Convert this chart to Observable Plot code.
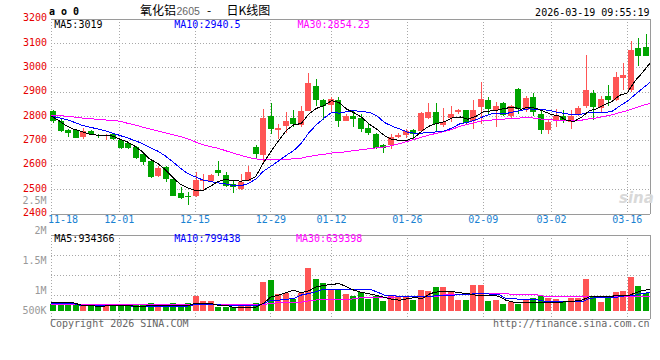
<!DOCTYPE html>
<html><head><meta charset="utf-8">
<script src="https://cdn.jsdelivr.net/npm/d3@7"></script>
<script src="https://cdn.jsdelivr.net/npm/@observablehq/plot@0.6"></script>
<style>
body{margin:0;background:#fff;}
#chart{position:relative;width:660px;height:360px;overflow:hidden;background:#fff;}
#chart svg{position:absolute;left:0;top:0;}
.t{position:absolute;white-space:nowrap;font-family:"DejaVu Sans Mono",monospace;font-size:10px;line-height:10px;}
</style></head><body><div id="chart"></div>
<script>
// ---------- data ----------
const dates = ["11-18","11-19","11-20","11-21","11-24","11-25","11-26","11-27","11-28",
"12-01","12-02","12-03","12-04","12-05","12-08","12-09","12-10","12-11","12-12",
"12-15","12-16","12-17","12-18","12-19","12-22","12-23","12-24","12-25","12-26",
"12-29","12-30","12-31","01-05","01-06","01-07","01-08","01-09",
"01-12","01-13","01-14","01-15","01-16","01-19","01-20","01-21","01-22","01-23",
"01-26","01-27","01-28","01-29","01-30","02-02","02-03","02-04","02-05","02-06",
"02-09","02-10","02-11","02-12","02-13","02-24","02-25","02-26","02-27",
"03-02","03-03","03-04","03-05","03-06","03-09","03-10","03-11","03-12","03-13",
"03-16","03-17","03-18","03-19"];
const open = [2820,2779,2744,2741,2714,2738,2720,2718,2725,2700,
2689,2673,2643,2614,2554,2591,2541,2485,2473,2472,
2532,2534,2577,2557,2520,2501,2534,2673,2639,2798,
2742,2757,2792,2762,2820,2925,2864,2847,2867,2779,
2802,2793,2751,2727,2680,2680,2714,2721,2741,2738,
2793,2816,2762,2793,2815,2823,2779,2837,2864,2826,
2853,2798,2912,2823,2880,2807,2741,2782,2798,2775,
2807,2840,2894,2834,2881,2864,2957,2905,3080,3085];
const high = [2823,2789,2748,2744,2752,2741,2727,2727,2727,2703,
2692,2676,2646,2618,2594,2594,2544,2509,2489,2571,
2561,2564,2614,2571,2539,2564,2594,2680,2830,2853,
2768,2816,2826,2843,2976,2953,2871,2877,2877,2809,
2823,2809,2768,2730,2686,2727,2730,2747,2747,2816,
2853,2853,2834,2843,2830,2826,2864,2939,2877,2857,
2857,2846,2916,2884,2894,2823,2789,2830,2826,2823,
2843,3051,2906,2883,2926,2980,3018,3109,3119,3135];
const low = [2771,2733,2714,2709,2707,2721,2711,2700,2703,2665,
2665,2624,2598,2546,2550,2528,2472,2459,2434,2468,
2495,2530,2553,2509,2485,2498,2534,2625,2605,2725,
2707,2730,2755,2755,2820,2843,2785,2812,2755,2779,
2755,2734,2721,2665,2650,2666,2711,2711,2707,2738,
2789,2734,2755,2775,2809,2768,2748,2766,2809,2755,
2800,2793,2809,2816,2802,2725,2727,2755,2771,2748,
2800,2832,2785,2818,2840,2862,2905,2898,3005,3047];
const close = [2779,2738,2730,2711,2737,2725,2716,2722,2706,2670,
2670,2629,2611,2550,2586,2542,2472,2464,2469,2536,
2538,2557,2566,2513,2509,2530,2569,2643,2793,2745,
2749,2778,2766,2819,2937,2864,2839,2868,2779,2798,
2789,2745,2731,2670,2670,2714,2724,2738,2727,2812,
2816,2768,2775,2809,2823,2771,2823,2868,2830,2843,
2805,2843,2830,2873,2816,2744,2775,2802,2782,2798,
2834,2906,2838,2868,2864,2960,2967,3072,3045,3048];
const ma5 = [2802,2784,2762,2748,2739,2728,2724,2722,2721,2708,
2697,2679,2657,2626,2609,2584,2552,2523,2507,2497,
2496,2513,2533,2542,2537,2535,2537,2553,2609,2656,
2700,2742,2766,2771,2810,2833,2845,2865,2857,2830,
2815,2796,2768,2747,2721,2706,2702,2703,2715,2743,
2763,2772,2780,2796,2798,2789,2800,2819,2823,2827,
2834,2838,2830,2839,2833,2821,2808,2802,2784,2780,
2798,2824,2832,2849,2862,2887,2897,2945,2980,3019];
const ma10 = [2802,2795,2788,2777,2765,2757,2750,2743,2733,2723,
2713,2702,2690,2674,2659,2640,2616,2590,2566,2553,
2540,2533,2528,2524,2517,2515,2525,2543,2575,2596,
2617,2640,2660,2690,2733,2766,2793,2816,2814,2820,
2824,2820,2817,2802,2775,2760,2749,2736,2731,2732,
2735,2737,2741,2755,2771,2776,2786,2799,2810,2813,
2812,2819,2825,2831,2830,2828,2823,2816,2811,2807,
2810,2816,2817,2816,2821,2843,2862,2889,2915,2940];
const ma30 = [2806,2804,2801,2798,2794,2791,2789,2786,2784,2781,
2773,2766,2757,2749,2741,2734,2726,2718,2709,2696,
2685,2676,2670,2660,2650,2641,2632,2626,2623,2624,
2623,2625,2626,2629,2636,2641,2645,2650,2652,2656,
2660,2664,2668,2672,2675,2681,2689,2698,2707,2716,
2725,2732,2739,2749,2760,2768,2776,2784,2785,2788,
2790,2792,2794,2796,2792,2788,2786,2784,2784,2784,
2785,2791,2794,2801,2807,2816,2824,2835,2845,2853];
const volume = [311000,311000,311000,311000,268000,268000,268000,268000,268000,255000,
240000,240000,255000,354000,311000,240000,354000,311000,354000,652000,
439000,439000,183000,183000,183000,240000,255000,354000,1248000,1333000,
737000,780000,511000,767000,1845000,1376000,1193000,907000,950000,737000,
652000,793000,524000,622000,439000,622000,622000,622000,481000,907000,
865000,1007000,1035000,793000,481000,481000,1120000,1120000,439000,481000,
311000,396000,311000,481000,567000,622000,567000,524000,410000,567000,
567000,1376000,622000,396000,622000,793000,865000,1430000,1050000,767000];
const volMa5 = [369000,369000,369000,369000,270000,270000,227000,227000,270000,270000,
270000,227000,227000,241000,241000,241000,241000,241000,241000,341000,
341000,341000,270000,270000,185000,185000,185000,185000,338000,622000,
694000,807000,907000,807000,878000,1050000,1110000,1151000,1190000,1050000,
900000,810000,750000,680000,600000,520000,481000,540000,594000,552000,
765000,836000,864000,850000,793000,765000,694000,694000,694000,652000,
481000,400000,369000,369000,380000,390000,390000,398000,412000,440000,
481000,622000,652000,652000,652000,694000,665000,780000,900000,934000];
const volMa10 = [341000,341000,341000,341000,241000,241000,241000,241000,241000,241000,
241000,227000,227000,227000,227000,227000,227000,227000,227000,298000,
298000,298000,298000,241000,241000,241000,241000,241000,341000,481000,
481000,520000,552000,700000,765000,850000,949000,949000,949000,949000,
949000,949000,949000,836000,694000,694000,622000,622000,622000,622000,
622000,694000,694000,694000,722000,722000,765000,765000,737000,737000,
552000,552000,509000,509000,509000,439000,439000,439000,412000,412000,
412000,552000,594000,594000,594000,622000,694000,694000,780000,799000];
const volMa30 = [290000,290000,290000,290000,290000,290000,290000,290000,290000,290000,
290000,290000,290000,290000,290000,290000,290000,290000,290000,290000,
290000,290000,290000,290000,290000,290000,290000,290000,300000,340000,
383000,383000,383000,400000,450000,490000,511000,511000,511000,511000,
540000,595000,595000,595000,595000,595000,652000,652000,652000,652000,
652000,652000,722000,722000,722000,722000,765000,765000,765000,765000,
765000,722000,722000,722000,722000,652000,652000,652000,652000,652000,
652000,652000,652000,652000,652000,652000,652000,652000,652000,639000];
const priceTicks = [2400,2500,2600,2700,2800,2900,3000,3100,3200];
const dateTicks = ["11-18","12-01","12-15","12-29","01-12","01-26","02-09","03-02","03-16"];
const volTickValues = [2500000,2000000,1500000,1000000,500000];
const volTickLabels = ["2.5M","2M","1.5M","1M","500K"];
const volGridValues = [2373000,1521000,694000];
const maLabels = ["MA5:3019","MA10:2940.5","MA30:2854.23"];
const volMaLabels = ["MA5:934366","MA10:799438","MA30:639398"];
const maColors = ["#000000","#0000ff","#ff00ff"];

// ---------- drawing ----------
const W = 660, H = 360;
const RED = "#ff5555", GREEN = "#00a400", GRID = "#a8a8a8", BORDER = "#9a9a9a", BLUE = "#1a82d2";
const chart = document.getElementById("chart");
const rows = dates.map((d, i) => ({date: d, open: open[i], high: high[i], low: low[i], close: close[i],
  volume: volume[i], color: close[i] >= open[i] ? RED : GREEN}));
const series = (arr) => arr.map((v, i) => ({date: dates[i], value: v}));
const style = {fontFamily: "'DejaVu Sans Mono', monospace", fontSize: "10px", background: "transparent", overflow: "visible"};

function layer(opts, crisp = true) {
  const svg = Plot.plot({width: W, height: H, style, color: {type: "identity"}, ...opts});
  if (crisp) svg.setAttribute("shape-rendering", "crispEdges");
  chart.appendChild(svg);
}
const priceFrame = {marginTop: 18.5, marginBottom: 146.5};
const volFrame = {marginTop: 234.5, marginBottom: 41.5};
const pointX = {marginLeft: 50.5, marginRight: 10.5, x: {type: "point", domain: dates, range: [50.5, 649.5], padding: 0, axis: null}};
const bandX = {marginLeft: 49.25, marginRight: 10.75, x: {type: "band", domain: dates, range: [49.25, 649.25], padding: 0, axis: null}};
const priceY = {y: {domain: [2400, 3200], axis: null}};
const volDomain = [-319500, 3259000];
const volY = {y: {domain: volDomain, axis: null}};

// price grid, borders and axis labels
layer({...priceFrame, ...pointX, ...priceY, marks: [
  Plot.ruleY(priceTicks.slice(1, -1), {y: d => d, stroke: GRID, strokeDasharray: "1,2"}),
  Plot.ruleX(dateTicks, {x: d => d, stroke: GRID, strokeDasharray: "1,2"}),
  Plot.ruleY([priceTicks[0], priceTicks[priceTicks.length - 1]], {y: d => d, stroke: BORDER}),
  Plot.ruleX([dates[dates.length - 1]], {x: d => d, stroke: BORDER}),
  Plot.text(priceTicks, {y: d => d, text: d => String(d), frameAnchor: "left", textAnchor: "end", dx: -4, dy: -1, fill: "#e60000"}),
  Plot.text(dateTicks.slice(1), {x: d => d, text: d => d, frameAnchor: "bottom", dy: 8.5, fill: BLUE}),
  Plot.text(dateTicks.slice(0, 1), {x: d => d, text: d => d, frameAnchor: "bottom", textAnchor: "start", dy: 8.5, dx: -3, fill: BLUE})
]});
// candles
layer({...priceFrame, ...bandX, ...priceY, marks: [
  Plot.ruleX(rows, {x: "date", y1: "low", y2: "high", stroke: "color"}),
  Plot.barY(rows, {x: "date", y1: "open", y2: "close", fill: "color", insetLeft: 0.75, insetRight: 0.75})
]});
// price moving averages
layer({...priceFrame, ...pointX, ...priceY, marks: [
  Plot.line(series(ma30), {x: "date", y: "value", stroke: maColors[2], strokeWidth: 1}),
  Plot.line(series(ma10), {x: "date", y: "value", stroke: maColors[1], strokeWidth: 1}),
  Plot.line(series(ma5), {x: "date", y: "value", stroke: maColors[0], strokeWidth: 1})
]});
// volume grid and borders
layer({...volFrame, ...pointX, ...volY, marks: [
  Plot.ruleY(volGridValues, {y: d => d, stroke: GRID, strokeDasharray: "1,2"}),
  Plot.ruleX(dateTicks, {x: d => d, stroke: GRID, strokeDasharray: "1,2"}),
  Plot.ruleY(volDomain, {y: d => d, stroke: BORDER}),
  Plot.ruleX([dates[dates.length - 1]], {x: d => d, stroke: BORDER})
]});
// volume bars
layer({...volFrame, ...bandX, ...volY, marks: [
  Plot.barY(rows, {x: "date", y: "volume", fill: "color", insetLeft: 0.75, insetRight: 0.75})
]});
// volume moving averages
layer({...volFrame, ...pointX, ...volY, marks: [
  Plot.line(series(volMa30), {x: "date", y: "value", stroke: maColors[2], strokeWidth: 1}),
  Plot.line(series(volMa10), {x: "date", y: "value", stroke: maColors[1], strokeWidth: 1}),
  Plot.line(series(volMa5), {x: "date", y: "value", stroke: maColors[0], strokeWidth: 1})
]});
// volume axis labels
layer({marginLeft: 50, marginRight: 10, marginTop: 200, marginBottom: 49,
  y: {domain: [666667, 2500000], range: [310.7, 200.7], clamp: true, axis: null},
  marks: [
    Plot.text(volTickValues, {y: d => d, text: (d, i) => volTickLabels[i], frameAnchor: "left", textAnchor: "end", dx: -4, fill: "#999999"})
  ]});

// ---------- header / footer texts ----------
function txt(s, x, cy, css = "", right = false) {
  const d = document.createElement("div");
  d.className = "t";
  d.textContent = s;
  d.style.cssText += (right ? `right:${W - x}px;` : `left:${x}px;`) + `top:${cy - 5}px;` + css;
  chart.appendChild(d);
  return d;
}
txt("a o 0", 49, 11.5, "font-weight:bold;");
txt("氧化铝", 140, 10.5, "font-family:'Noto Sans CJK SC';font-size:12px;line-height:12px;top:4px;");
txt("2605", 176.5, 11, "font-family:'Liberation Sans';font-size:10.5px;color:#666;");
txt("-", 207, 10.5, "font-family:'Noto Sans CJK SC';font-size:12px;line-height:12px;top:4px;");
txt("日K线图", 226.5, 10.5, "font-family:'Noto Sans CJK SC';font-size:12px;line-height:12px;top:4px;");
txt("2026-03-19 09:55:19", 649.5, 12.5, "", true);
const maX = [54.3, 174.3, 297.5];
maLabels.forEach((s, i) => txt(s, maX[i], 24.7, `color:${maColors[i]};`));
const volMaX = [54.3, 174.3, 296];
volMaLabels.forEach((s, i) => txt(s, volMaX[i], 238.5, `color:${maColors[i]};`));
txt("Copyright 2026 SINA.COM", 50, 324, "color:#666;");
txt("http://finance.sina.com.cn", 649.5, 324, "color:#666;", true);
txt("sina", 619, 198.5, "font-family:'DejaVu Sans';font-weight:bold;font-style:italic;font-size:15px;line-height:15px;top:191px;color:#d9d9d9;");
</script></body></html>
